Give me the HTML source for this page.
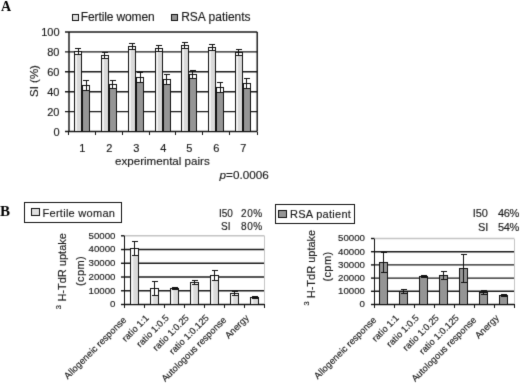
<!DOCTYPE html><html><head><meta charset="utf-8"><style>html,body{margin:0;padding:0;background:#fff;}svg{display:block;} #w{will-change:transform;width:520px;height:383px;overflow:hidden;}text{font-family:"Liberation Sans",sans-serif;fill:#1a1a1a;stroke:#1a1a1a;stroke-width:0.15px;}</style></head><body>
<div id="w">
<svg width="520" height="383" viewBox="0 0 520 383" shape-rendering="crispEdges"><defs><linearGradient id="lg" x1="0" y1="0" x2="1" y2="0"><stop offset="0" stop-color="#f6f6f6"/><stop offset="0.28" stop-color="#f2f2f2"/><stop offset="0.42" stop-color="#dadada"/><stop offset="1" stop-color="#d8d8d8"/></linearGradient><filter id="bl" x="0" y="0" width="520" height="383" filterUnits="userSpaceOnUse" primitiveUnits="userSpaceOnUse" color-interpolation-filters="sRGB"><feConvolveMatrix order="3" kernelMatrix="0.0183 0.1353 0.0183 0.1353 1.0000 0.1353 0.0183 0.1353 0.0183" edgeMode="duplicate"/></filter></defs><rect width="520" height="383" fill="#fff"/><g filter="url(#bl)"><rect width="520" height="383" fill="#fff"/>
<text x="1" y="10.6" style="font-family:'Liberation Serif',serif;font-weight:bold;font-size:14px;fill:#000;stroke:none">A</text>
<rect x="72.5" y="14.5" width="6" height="6" fill="#e0e0e0" stroke="#111"/>
<text x="80.8" y="21.2" style="font-size:12px;letter-spacing:-0.12px">Fertile women</text>
<rect x="171.5" y="14.5" width="6" height="6" fill="#959595" stroke="#111"/>
<text x="181.2" y="21.3" style="font-size:12px">RSA patients</text>
<line x1="65" y1="131.5" x2="257.2" y2="131.5" stroke="#1a1a1a" shape-rendering="geometricPrecision" stroke-width="1.4"/>
<text x="59.5" y="135.5" text-anchor="end" style="font-size:11px">0</text>
<line x1="65" y1="111.6" x2="257.2" y2="111.6" stroke="#1a1a1a" shape-rendering="geometricPrecision" stroke-width="1.4"/>
<text x="59.5" y="115.6" text-anchor="end" style="font-size:11px">20</text>
<line x1="65" y1="91.7" x2="257.2" y2="91.7" stroke="#1a1a1a" shape-rendering="geometricPrecision" stroke-width="1.4"/>
<text x="59.5" y="95.7" text-anchor="end" style="font-size:11px">40</text>
<line x1="65" y1="71.8" x2="257.2" y2="71.8" stroke="#1a1a1a" shape-rendering="geometricPrecision" stroke-width="1.4"/>
<text x="59.5" y="75.8" text-anchor="end" style="font-size:11px">60</text>
<line x1="65" y1="51.9" x2="257.2" y2="51.9" stroke="#1a1a1a" shape-rendering="geometricPrecision" stroke-width="1.4"/>
<text x="59.5" y="55.9" text-anchor="end" style="font-size:11px">80</text>
<line x1="65" y1="32" x2="257.2" y2="32" stroke="#1a1a1a" shape-rendering="geometricPrecision" stroke-width="1.4"/>
<text x="59.5" y="36" text-anchor="end" style="font-size:11px">100</text>
<line x1="69" y1="32" x2="69" y2="131.5" stroke="#111" shape-rendering="geometricPrecision" stroke-width="1.4"/>
<line x1="257.2" y1="32" x2="257.2" y2="131.5" stroke="#111" shape-rendering="geometricPrecision" stroke-width="1.4"/>
<line x1="68.5" y1="131.5" x2="68.5" y2="135" stroke="#111"/>
<line x1="95.5" y1="131.5" x2="95.5" y2="135" stroke="#111"/>
<line x1="122.5" y1="131.5" x2="122.5" y2="135" stroke="#111"/>
<line x1="149.5" y1="131.5" x2="149.5" y2="135" stroke="#111"/>
<line x1="175.5" y1="131.5" x2="175.5" y2="135" stroke="#111"/>
<line x1="202.5" y1="131.5" x2="202.5" y2="135" stroke="#111"/>
<line x1="229.5" y1="131.5" x2="229.5" y2="135" stroke="#111"/>
<line x1="257.5" y1="131.5" x2="257.5" y2="135" stroke="#111"/>
<rect x="74.5" y="51.5" width="7" height="80" fill="url(#lg)" stroke="#111"/><rect x="75" y="52" width="6" height="2.3" fill="#fff"/><line x1="78.5" y1="48.7" x2="78.5" y2="54.3" stroke="#111"/><line x1="75" y1="48.5" x2="81" y2="48.5" stroke="#111"/><line x1="75" y1="54.5" x2="81" y2="54.5" stroke="#111"/>
<rect x="82.5" y="85.5" width="7" height="46" fill="#959595" stroke="#111"/><rect x="83" y="86" width="6" height="4.5" fill="#fff"/><line x1="86.5" y1="80.5" x2="86.5" y2="90.5" stroke="#111"/><line x1="83" y1="80.5" x2="89" y2="80.5" stroke="#111"/><line x1="83" y1="90.5" x2="89" y2="90.5" stroke="#111"/>
<text x="82.3" y="152.4" text-anchor="middle" style="font-size:11px">1</text>
<rect x="101.5" y="55.5" width="7" height="76" fill="url(#lg)" stroke="#111"/><rect x="102" y="56" width="6" height="2" fill="#fff"/><line x1="104.5" y1="53" x2="104.5" y2="58" stroke="#111"/><line x1="102" y1="52.5" x2="108" y2="52.5" stroke="#111"/><line x1="102" y1="58.5" x2="108" y2="58.5" stroke="#111"/>
<rect x="109.5" y="84.5" width="7" height="47" fill="#959595" stroke="#111"/><rect x="110" y="85" width="6" height="4" fill="#fff"/><line x1="112.5" y1="80" x2="112.5" y2="89" stroke="#111"/><line x1="110" y1="80.5" x2="116" y2="80.5" stroke="#111"/><line x1="110" y1="88.5" x2="116" y2="88.5" stroke="#111"/>
<text x="109.3" y="152.4" text-anchor="middle" style="font-size:11px">2</text>
<rect x="128.5" y="46.5" width="7" height="85" fill="url(#lg)" stroke="#111"/><rect x="129" y="47" width="6" height="2.7" fill="#fff"/><line x1="132.5" y1="43.3" x2="132.5" y2="49.7" stroke="#111"/><line x1="129" y1="43.5" x2="135" y2="43.5" stroke="#111"/><line x1="129" y1="49.5" x2="135" y2="49.5" stroke="#111"/>
<rect x="136.5" y="77.5" width="7" height="54" fill="#959595" stroke="#111"/><rect x="137" y="78" width="6" height="4.7" fill="#fff"/><line x1="140.5" y1="72.3" x2="140.5" y2="82.7" stroke="#111"/><line x1="137" y1="72.5" x2="143" y2="72.5" stroke="#111"/><line x1="137" y1="82.5" x2="143" y2="82.5" stroke="#111"/>
<text x="136.3" y="152.4" text-anchor="middle" style="font-size:11px">3</text>
<rect x="155.5" y="48.5" width="7" height="83" fill="url(#lg)" stroke="#111"/><rect x="156" y="49" width="6" height="2.2" fill="#fff"/><line x1="158.5" y1="45.8" x2="158.5" y2="51.2" stroke="#111"/><line x1="156" y1="45.5" x2="162" y2="45.5" stroke="#111"/><line x1="156" y1="51.5" x2="162" y2="51.5" stroke="#111"/>
<rect x="163.5" y="79.5" width="7" height="52" fill="#959595" stroke="#111"/><rect x="164" y="80" width="6" height="4.5" fill="#fff"/><line x1="166.5" y1="74.5" x2="166.5" y2="84.5" stroke="#111"/><line x1="164" y1="74.5" x2="170" y2="74.5" stroke="#111"/><line x1="164" y1="84.5" x2="170" y2="84.5" stroke="#111"/>
<text x="163.3" y="152.4" text-anchor="middle" style="font-size:11px">4</text>
<rect x="181.5" y="45.5" width="7" height="86" fill="url(#lg)" stroke="#111"/><rect x="182" y="46" width="6" height="2.9" fill="#fff"/><line x1="184.5" y1="42.1" x2="184.5" y2="48.9" stroke="#111"/><line x1="182" y1="42.5" x2="188" y2="42.5" stroke="#111"/><line x1="182" y1="48.5" x2="188" y2="48.5" stroke="#111"/>
<rect x="189.5" y="74.5" width="7" height="57" fill="#959595" stroke="#111"/><rect x="190" y="75" width="6" height="4" fill="#fff"/><line x1="192.5" y1="70" x2="192.5" y2="79" stroke="#111"/><line x1="190" y1="70.5" x2="196" y2="70.5" stroke="#111"/><line x1="190" y1="78.5" x2="196" y2="78.5" stroke="#111"/>
<text x="189.3" y="152.4" text-anchor="middle" style="font-size:11px">5</text>
<rect x="208.5" y="47.5" width="7" height="84" fill="url(#lg)" stroke="#111"/><rect x="209" y="48" width="6" height="2.6" fill="#fff"/><line x1="212.5" y1="44.4" x2="212.5" y2="50.6" stroke="#111"/><line x1="209" y1="44.5" x2="215" y2="44.5" stroke="#111"/><line x1="209" y1="50.5" x2="215" y2="50.5" stroke="#111"/>
<rect x="216.5" y="87.5" width="7" height="44" fill="#959595" stroke="#111"/><rect x="217" y="88" width="6" height="5" fill="#fff"/><line x1="220.5" y1="82" x2="220.5" y2="93" stroke="#111"/><line x1="217" y1="82.5" x2="223" y2="82.5" stroke="#111"/><line x1="217" y1="92.5" x2="223" y2="92.5" stroke="#111"/>
<text x="216.3" y="152.4" text-anchor="middle" style="font-size:11px">6</text>
<rect x="235.5" y="52.5" width="7" height="79" fill="url(#lg)" stroke="#111"/><rect x="236" y="53" width="6" height="2.8" fill="#fff"/><line x1="238.5" y1="49.2" x2="238.5" y2="55.8" stroke="#111"/><line x1="236" y1="49.5" x2="242" y2="49.5" stroke="#111"/><line x1="236" y1="55.5" x2="242" y2="55.5" stroke="#111"/>
<rect x="243.5" y="83.5" width="7" height="48" fill="#959595" stroke="#111"/><rect x="244" y="84" width="6" height="4.3" fill="#fff"/><line x1="246.5" y1="78.7" x2="246.5" y2="88.3" stroke="#111"/><line x1="244" y1="78.5" x2="250" y2="78.5" stroke="#111"/><line x1="244" y1="88.5" x2="250" y2="88.5" stroke="#111"/>
<text x="243.3" y="152.4" text-anchor="middle" style="font-size:11px">7</text>
<text x="115" y="165.2" style="font-size:11.6px">experimental pairs</text>
<text x="219.6" y="178.8" style="font-size:11.7px"><tspan style="font-style:italic">p</tspan>=0.0006</text>
<text transform="translate(38.3,97) rotate(-90)" style="font-size:11.5px">SI (%)</text>
<text x="0" y="215.6" style="font-family:'Liberation Serif',serif;font-weight:bold;font-size:15px;fill:#000;stroke:none">B</text>
<line x1="124.5" y1="304.5" x2="264.5" y2="304.5" stroke="#1a1a1a" shape-rendering="geometricPrecision" stroke-width="1.4"/><line x1="121" y1="304.5" x2="124.5" y2="304.5" stroke="#111" shape-rendering="geometricPrecision" stroke-width="1.4"/><text x="115.5" y="307.3" text-anchor="end" style="font-size:9.7px">0</text><line x1="124.5" y1="290.76" x2="264.5" y2="290.76" stroke="#1a1a1a" shape-rendering="geometricPrecision" stroke-width="1.4"/><line x1="121" y1="290.76" x2="124.5" y2="290.76" stroke="#111" shape-rendering="geometricPrecision" stroke-width="1.4"/><text x="115.5" y="293.56" text-anchor="end" style="font-size:9.7px">10000</text><line x1="124.5" y1="277.02" x2="264.5" y2="277.02" stroke="#1a1a1a" shape-rendering="geometricPrecision" stroke-width="1.4"/><line x1="121" y1="277.02" x2="124.5" y2="277.02" stroke="#111" shape-rendering="geometricPrecision" stroke-width="1.4"/><text x="115.5" y="279.82" text-anchor="end" style="font-size:9.7px">20000</text><line x1="124.5" y1="263.28" x2="264.5" y2="263.28" stroke="#1a1a1a" shape-rendering="geometricPrecision" stroke-width="1.4"/><line x1="121" y1="263.28" x2="124.5" y2="263.28" stroke="#111" shape-rendering="geometricPrecision" stroke-width="1.4"/><text x="115.5" y="266.08" text-anchor="end" style="font-size:9.7px">30000</text><line x1="124.5" y1="249.54" x2="264.5" y2="249.54" stroke="#1a1a1a" shape-rendering="geometricPrecision" stroke-width="1.4"/><line x1="121" y1="249.54" x2="124.5" y2="249.54" stroke="#111" shape-rendering="geometricPrecision" stroke-width="1.4"/><text x="115.5" y="252.34" text-anchor="end" style="font-size:9.7px">40000</text><line x1="124.5" y1="235.8" x2="264.5" y2="235.8" stroke="#c4c4c4" shape-rendering="geometricPrecision" stroke-width="1.4"/><line x1="121" y1="235.8" x2="124.5" y2="235.8" stroke="#111" shape-rendering="geometricPrecision" stroke-width="1.4"/><text x="115.5" y="238.6" text-anchor="end" style="font-size:9.7px">50000</text><line x1="124.5" y1="235.5" x2="124.5" y2="304.5" stroke="#111"/><line x1="264.5" y1="235.5" x2="264.5" y2="304.5" stroke="#c4c4c4"/><line x1="121" y1="304.5" x2="264.5" y2="304.5" stroke="#111"/><line x1="124.5" y1="304.5" x2="124.5" y2="308" stroke="#111"/><line x1="144.5" y1="304.5" x2="144.5" y2="308" stroke="#111"/><line x1="164.5" y1="304.5" x2="164.5" y2="308" stroke="#111"/><line x1="184.5" y1="304.5" x2="184.5" y2="308" stroke="#111"/><line x1="204.5" y1="304.5" x2="204.5" y2="308" stroke="#111"/><line x1="224.5" y1="304.5" x2="224.5" y2="308" stroke="#111"/><line x1="244.5" y1="304.5" x2="244.5" y2="308" stroke="#111"/><line x1="264.5" y1="304.5" x2="264.5" y2="308" stroke="#111"/><rect x="130.5" y="248.5" width="8" height="56" fill="url(#lg)" stroke="#111"/><rect x="131" y="249" width="7" height="6.64" fill="#fff"/><line x1="134.5" y1="241.36" x2="134.5" y2="255.64" stroke="#111"/><line x1="131.5" y1="241.5" x2="137.5" y2="241.5" stroke="#111"/><line x1="131.5" y1="255.5" x2="137.5" y2="255.5" stroke="#111"/><rect x="150.5" y="288.5" width="8" height="16" fill="url(#lg)" stroke="#111"/><rect x="151" y="289" width="7" height="6.37" fill="#fff"/><line x1="154.5" y1="281.63" x2="154.5" y2="295.37" stroke="#111"/><line x1="151.5" y1="281.5" x2="157.5" y2="281.5" stroke="#111"/><line x1="151.5" y1="295.5" x2="157.5" y2="295.5" stroke="#111"/><rect x="170.5" y="288.5" width="8" height="16" fill="url(#lg)" stroke="#111"/><rect x="171" y="289" width="7" height="0.32" fill="#fff"/><line x1="174.5" y1="287.68" x2="174.5" y2="289.32" stroke="#111"/><line x1="171.5" y1="287.5" x2="177.5" y2="287.5" stroke="#111"/><line x1="171.5" y1="289.5" x2="177.5" y2="289.5" stroke="#111"/><rect x="190.5" y="282.5" width="8" height="22" fill="url(#lg)" stroke="#111"/><rect x="191" y="283" width="7" height="1.56" fill="#fff"/><line x1="194.5" y1="280.44" x2="194.5" y2="284.56" stroke="#111"/><line x1="191.5" y1="280.5" x2="197.5" y2="280.5" stroke="#111"/><line x1="191.5" y1="284.5" x2="197.5" y2="284.5" stroke="#111"/><rect x="210.5" y="275.5" width="8" height="29" fill="url(#lg)" stroke="#111"/><rect x="211" y="276" width="7" height="4.38" fill="#fff"/><line x1="214.5" y1="270.62" x2="214.5" y2="280.38" stroke="#111"/><line x1="211.5" y1="270.5" x2="217.5" y2="270.5" stroke="#111"/><line x1="211.5" y1="280.5" x2="217.5" y2="280.5" stroke="#111"/><rect x="230.5" y="293.5" width="8" height="11" fill="url(#lg)" stroke="#111"/><rect x="231" y="294" width="7" height="1.29" fill="#fff"/><line x1="234.5" y1="291.71" x2="234.5" y2="295.29" stroke="#111"/><line x1="231.5" y1="291.5" x2="237.5" y2="291.5" stroke="#111"/><line x1="231.5" y1="295.5" x2="237.5" y2="295.5" stroke="#111"/><rect x="250.5" y="297.5" width="8" height="7" fill="url(#lg)" stroke="#111"/><rect x="251" y="298" width="7" height="0.19" fill="#fff"/><line x1="254.5" y1="296.81" x2="254.5" y2="298.19" stroke="#111"/><line x1="251.5" y1="296.5" x2="257.5" y2="296.5" stroke="#111"/><line x1="251.5" y1="298.5" x2="257.5" y2="298.5" stroke="#111"/><rect x="24.5" y="202.5" width="97" height="20" fill="#fff" stroke="#111"/><rect x="31.5" y="208.5" width="8" height="7" fill="#e0e0e0" stroke="#111"/><text x="42.5" y="217" style="font-size:11px;letter-spacing:0.28px">Fertile woman</text><text x="219" y="216.5" style="font-size:10px">I50</text><text x="262.8" y="216.5" text-anchor="end" style="font-size:10px;letter-spacing:0.6px">20%</text><text x="221" y="230" style="font-size:10px">SI</text><text x="262.8" y="230" text-anchor="end" style="font-size:10px;letter-spacing:0.6px">80%</text><text transform="translate(65.5,301.6) rotate(-90)" style="font-size:11px">H-TdR uptake</text><text transform="translate(60.5,309.3) rotate(-90)" style="font-size:7.5px">3</text><text transform="translate(83.5,286) rotate(-90)" style="font-size:11px;letter-spacing:0.4px">(cpm)</text><text transform="translate(127,320.5) rotate(-45)" text-anchor="end" style="font-size:9.3px">Allogeneic response</text><text transform="translate(149.5,318.5) rotate(-45)" text-anchor="end" style="font-size:9.3px">ratio 1:1</text><text transform="translate(169.5,318.5) rotate(-45)" text-anchor="end" style="font-size:9.3px">ratio 1:0.5</text><text transform="translate(189.5,318.5) rotate(-45)" text-anchor="end" style="font-size:9.3px">ratio 1:0.25</text><text transform="translate(209.5,318.5) rotate(-45)" text-anchor="end" style="font-size:9.3px">ratio 1:0.125</text><text transform="translate(227,320.5) rotate(-45)" text-anchor="end" style="font-size:9.3px">Autologous response</text><text transform="translate(249.5,318.5) rotate(-45)" text-anchor="end" style="font-size:9.3px">Anergy</text>
<line x1="374.5" y1="304.5" x2="514.5" y2="304.5" stroke="#1a1a1a" shape-rendering="geometricPrecision" stroke-width="1.4"/><line x1="371" y1="304.5" x2="374.5" y2="304.5" stroke="#111" shape-rendering="geometricPrecision" stroke-width="1.4"/><text x="365" y="307.3" text-anchor="end" style="font-size:9.7px">0</text><line x1="374.5" y1="291.3" x2="514.5" y2="291.3" stroke="#1a1a1a" shape-rendering="geometricPrecision" stroke-width="1.4"/><line x1="371" y1="291.3" x2="374.5" y2="291.3" stroke="#111" shape-rendering="geometricPrecision" stroke-width="1.4"/><text x="365" y="294.1" text-anchor="end" style="font-size:9.7px">10000</text><line x1="374.5" y1="278.1" x2="514.5" y2="278.1" stroke="#1a1a1a" shape-rendering="geometricPrecision" stroke-width="1.4"/><line x1="371" y1="278.1" x2="374.5" y2="278.1" stroke="#111" shape-rendering="geometricPrecision" stroke-width="1.4"/><text x="365" y="280.9" text-anchor="end" style="font-size:9.7px">20000</text><line x1="374.5" y1="264.9" x2="514.5" y2="264.9" stroke="#1a1a1a" shape-rendering="geometricPrecision" stroke-width="1.4"/><line x1="371" y1="264.9" x2="374.5" y2="264.9" stroke="#111" shape-rendering="geometricPrecision" stroke-width="1.4"/><text x="365" y="267.7" text-anchor="end" style="font-size:9.7px">30000</text><line x1="374.5" y1="251.7" x2="514.5" y2="251.7" stroke="#1a1a1a" shape-rendering="geometricPrecision" stroke-width="1.4"/><line x1="371" y1="251.7" x2="374.5" y2="251.7" stroke="#111" shape-rendering="geometricPrecision" stroke-width="1.4"/><text x="365" y="254.5" text-anchor="end" style="font-size:9.7px">40000</text><line x1="374.5" y1="238.5" x2="514.5" y2="238.5" stroke="#c4c4c4" shape-rendering="geometricPrecision" stroke-width="1.4"/><line x1="371" y1="238.5" x2="374.5" y2="238.5" stroke="#111" shape-rendering="geometricPrecision" stroke-width="1.4"/><text x="365" y="241.3" text-anchor="end" style="font-size:9.7px">50000</text><line x1="374.5" y1="238.5" x2="374.5" y2="304.5" stroke="#111"/><line x1="514.5" y1="238.5" x2="514.5" y2="304.5" stroke="#c4c4c4"/><line x1="371" y1="304.5" x2="514.5" y2="304.5" stroke="#111"/><line x1="374.5" y1="304.5" x2="374.5" y2="308" stroke="#111"/><line x1="394.5" y1="304.5" x2="394.5" y2="308" stroke="#111"/><line x1="414.5" y1="304.5" x2="414.5" y2="308" stroke="#111"/><line x1="434.5" y1="304.5" x2="434.5" y2="308" stroke="#111"/><line x1="454.5" y1="304.5" x2="454.5" y2="308" stroke="#111"/><line x1="474.5" y1="304.5" x2="474.5" y2="308" stroke="#111"/><line x1="494.5" y1="304.5" x2="494.5" y2="308" stroke="#111"/><line x1="514.5" y1="304.5" x2="514.5" y2="308" stroke="#111"/><rect x="379.5" y="262.5" width="8" height="42" fill="#959595" stroke="#111"/><line x1="383.5" y1="252.6" x2="383.5" y2="272.4" stroke="#111"/><line x1="380.5" y1="252.5" x2="386.5" y2="252.5" stroke="#111"/><line x1="380.5" y1="272.5" x2="386.5" y2="272.5" stroke="#111"/><rect x="399.5" y="291.5" width="8" height="13" fill="#959595" stroke="#111"/><line x1="403.5" y1="289.52" x2="403.5" y2="293.48" stroke="#111"/><line x1="400.5" y1="289.5" x2="406.5" y2="289.5" stroke="#111"/><line x1="400.5" y1="293.5" x2="406.5" y2="293.5" stroke="#111"/><rect x="419.5" y="276.5" width="8" height="28" fill="#959595" stroke="#111"/><line x1="423.5" y1="275.58" x2="423.5" y2="277.42" stroke="#111"/><line x1="420.5" y1="275.5" x2="426.5" y2="275.5" stroke="#111"/><line x1="420.5" y1="277.5" x2="426.5" y2="277.5" stroke="#111"/><rect x="439.5" y="275.5" width="8" height="29" fill="#959595" stroke="#111"/><line x1="443.5" y1="271.8" x2="443.5" y2="279.2" stroke="#111"/><line x1="440.5" y1="271.5" x2="446.5" y2="271.5" stroke="#111"/><line x1="440.5" y1="279.5" x2="446.5" y2="279.5" stroke="#111"/><rect x="459.5" y="268.5" width="8" height="36" fill="#959595" stroke="#111"/><line x1="463.5" y1="254.9" x2="463.5" y2="282.1" stroke="#111"/><line x1="460.5" y1="254.5" x2="466.5" y2="254.5" stroke="#111"/><line x1="460.5" y1="282.5" x2="466.5" y2="282.5" stroke="#111"/><rect x="479.5" y="292.5" width="8" height="12" fill="#959595" stroke="#111"/><line x1="483.5" y1="290.52" x2="483.5" y2="294.48" stroke="#111"/><line x1="480.5" y1="290.5" x2="486.5" y2="290.5" stroke="#111"/><line x1="480.5" y1="294.5" x2="486.5" y2="294.5" stroke="#111"/><rect x="499.5" y="295.5" width="8" height="9" fill="#959595" stroke="#111"/><line x1="503.5" y1="294.84" x2="503.5" y2="296.16" stroke="#111"/><line x1="500.5" y1="294.5" x2="506.5" y2="294.5" stroke="#111"/><line x1="500.5" y1="296.5" x2="506.5" y2="296.5" stroke="#111"/><rect x="275.5" y="204.5" width="79" height="19" fill="#fff" stroke="#111"/><rect x="278.5" y="210.5" width="8" height="7" fill="#959595" stroke="#111"/><text x="290" y="218" style="font-size:11px;letter-spacing:0.28px">RSA patient</text><text x="472.7" y="216.7" style="font-size:11px">I50</text><text x="519" y="216.7" text-anchor="end" style="font-size:11px;letter-spacing:-0.3px">46%</text><text x="477.9" y="231.2" style="font-size:11px">SI</text><text x="519" y="231.2" text-anchor="end" style="font-size:11px;letter-spacing:-0.3px">54%</text><text transform="translate(314.5,298.3) rotate(-90)" style="font-size:11px">H-TdR uptake</text><text transform="translate(309.1,305.5) rotate(-90)" style="font-size:7.5px">3</text><text transform="translate(331.3,281.6) rotate(-90)" style="font-size:11px;letter-spacing:0.4px">(cpm)</text><text transform="translate(377,320.5) rotate(-45)" text-anchor="end" style="font-size:9.3px">Allogeneic response</text><text transform="translate(399.5,318.5) rotate(-45)" text-anchor="end" style="font-size:9.3px">ratio 1:1</text><text transform="translate(419.5,318.5) rotate(-45)" text-anchor="end" style="font-size:9.3px">ratio 1:0.5</text><text transform="translate(439.5,318.5) rotate(-45)" text-anchor="end" style="font-size:9.3px">ratio 1:0.25</text><text transform="translate(459.5,318.5) rotate(-45)" text-anchor="end" style="font-size:9.3px">ratio 1:0.125</text><text transform="translate(477,320.5) rotate(-45)" text-anchor="end" style="font-size:9.3px">Autologous response</text><text transform="translate(499.5,318.5) rotate(-45)" text-anchor="end" style="font-size:9.3px">Anergy</text>
</g></svg></div></body></html>
